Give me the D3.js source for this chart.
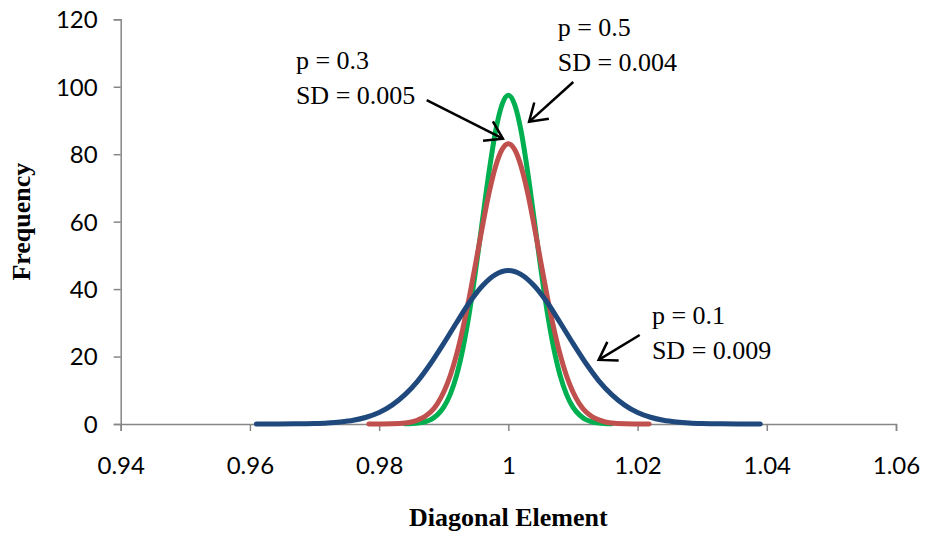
<!DOCTYPE html>
<html>
<head>
<meta charset="utf-8">
<script src="https://cdn.jsdelivr.net/npm/d3@7"></script>
<style>
  html, body { margin: 0; padding: 0; background: #ffffff; }
  svg { display: block; }
</style>
</head>
<body>
<svg id="chart" width="926" height="538"></svg>
<script>
// ---------- data ----------
const xTickValues = [0.94, 0.96, 0.98, 1.00, 1.02, 1.04, 1.06];
const xTickLabels = ["0.94", "0.96", "0.98", "1", "1.02", "1.04", "1.06"];
const yTickValues = [0, 20, 40, 60, 80, 100, 120];
const yTickLabels = ["0", "20", "40", "60", "80", "100", "120"];

// p = 0.5, SD = 0.004 (green)
const greenX = [0.984, 0.986, 0.987, 0.988, 0.989, 0.990, 0.991, 0.992, 0.993, 0.994, 0.995, 0.996, 0.997, 0.998, 0.999,
                1.000,
                1.001, 1.002, 1.003, 1.004, 1.005, 1.006, 1.007, 1.008, 1.009, 1.010, 1.011, 1.012, 1.013, 1.014, 1.016];
const greenY = [0.05, 0.3, 0.6, 1.3, 2.7, 5.0, 8.8, 14.5, 22.7, 33.4, 46.4, 60.6, 74.6, 86.6, 94.6,
                97.5,
                94.6, 86.6, 74.6, 60.6, 46.4, 33.4, 22.7, 14.5, 8.8, 5.0, 2.7, 1.3, 0.6, 0.3, 0.05];

// p = 0.3, SD = 0.005 (red)
const redX = [0.9784, 0.980, 0.982, 0.984, 0.985, 0.986, 0.987, 0.988, 0.989, 0.990, 0.991, 0.992, 0.993, 0.994, 0.995, 0.996, 0.997, 0.998, 0.999,
              1.000,
              1.001, 1.002, 1.003, 1.004, 1.005, 1.006, 1.007, 1.008, 1.009, 1.010, 1.011, 1.012, 1.013, 1.014, 1.015, 1.016, 1.018, 1.020, 1.0218];
const redY = [0.0, 0.02, 0.07, 0.3, 0.6, 1.2, 2.1, 3.6, 6.0, 9.5, 14.3, 20.7, 28.7, 38.0, 48.3, 58.7, 68.4, 76.2, 81.3,
              83.1,
              81.3, 76.2, 68.4, 58.7, 48.3, 38.0, 28.7, 20.7, 14.3, 9.5, 6.0, 3.6, 2.1, 1.2, 0.6, 0.3, 0.07, 0.02, 0.0];

// p = 0.1, SD = 0.009 (blue)
const blueX = [0.961, 0.964, 0.967, 0.970, 0.972, 0.974, 0.976, 0.978, 0.980, 0.982, 0.984, 0.986, 0.988, 0.990, 0.992, 0.994, 0.996, 0.998,
               1.000,
               1.002, 1.004, 1.006, 1.008, 1.010, 1.012, 1.014, 1.016, 1.018, 1.020, 1.022, 1.024, 1.026, 1.028, 1.030, 1.033, 1.036, 1.039];
const blueY = [0.0, 0.01, 0.04, 0.14, 0.3, 0.6, 1.1, 2.0, 3.4, 5.6, 8.7, 12.8, 18.0, 23.9, 30.1, 36.1, 41.0, 44.3,
               45.5,
               44.3, 41.0, 36.1, 30.1, 23.9, 18.0, 12.8, 8.7, 5.6, 3.4, 2.0, 1.1, 0.6, 0.3, 0.14, 0.04, 0.01, 0.0];

const seriesNames = ["p = 0.5", "p = 0.3", "p = 0.1"];
const seriesColors = ["#00B050", "#C0504D", "#1F497D"];

// annotations: text lines anchored in data units, arrows from/to in data units
const annoLine1 = ["p = 0.3", "p = 0.5", "p = 0.1"];
const annoLine2 = ["SD = 0.005", "SD = 0.004", "SD = 0.009"];
const annoTextX = [0.96712, 1.00764, 1.02222];
const annoTextY = [105.2, 114.9, 29.6];
const arrowFromX = [0.98736, 1.01005, 1.02033];
const arrowFromY = [96.0, 101.4, 26.4];
const arrowToX = [0.99916, 1.00321, 1.01398];
const arrowToY = [84.6, 89.6, 19.0];

// ---------- layout ----------
const svg = d3.select("#chart");
const x = d3.scaleLinear().domain([0.94, 1.06]).range([120.7, 896]);
const y = d3.scaleLinear().domain([0, 120]).range([424, 19.3]);
const axisColor = "#868686";
const tickFont = "Lato, 'Open Sans', sans-serif";
const serifFont = "'Liberation Serif', 'Times New Roman', serif";

svg.append("rect").attr("width", 926).attr("height", 538).attr("fill", "#fff");

// y axis
const yAxis = svg.append("g").attr("transform", `translate(${x.range()[0]},0)`)
  .call(d3.axisLeft(y).tickValues(yTickValues).tickSize(7).tickPadding(16)
        .tickFormat((d, i) => yTickLabels[i]));
// x axis
const xAxis = svg.append("g").attr("transform", `translate(0,${y(0)})`)
  .call(d3.axisBottom(x).tickValues(xTickValues).tickSize(7).tickPadding(26)
        .tickFormat((d, i) => xTickLabels[i]));

[yAxis, xAxis].forEach(g => {
  g.select(".domain").attr("stroke", axisColor).attr("stroke-width", 1.5);
  g.selectAll(".tick line").attr("stroke", axisColor).attr("stroke-width", 1.5);
  g.selectAll(".tick text").attr("fill", "#000").attr("font-family", tickFont).attr("font-size", 24);
});
yAxis.selectAll(".tick text").attr("dy", "0.35em");
xAxis.selectAll(".tick text").attr("dy", "0.71em");

// axis titles
svg.append("text")
  .attr("transform", `translate(30,${(y(0) + y(120)) / 2}) rotate(-90)`)
  .attr("text-anchor", "middle")
  .attr("font-family", serifFont).attr("font-weight", "bold").attr("font-size", 26)
  .text("Frequency");
svg.append("text")
  .attr("x", (x.range()[0] + x.range()[1]) / 2).attr("y", 526)
  .attr("text-anchor", "middle")
  .attr("font-family", serifFont).attr("font-weight", "bold").attr("font-size", 26)
  .text("Diagonal Element");

// curves
const seriesData = [
  greenX.map((v, i) => [v, greenY[i]]),
  redX.map((v, i) => [v, redY[i]]),
  blueX.map((v, i) => [v, blueY[i]])
];
const line = d3.line().x(d => x(d[0])).y(d => y(d[1])).curve(d3.curveMonotoneX);
svg.append("g").selectAll("path").data(seriesData).join("path")
  .attr("d", line)
  .attr("fill", "none")
  .attr("stroke", (d, i) => seriesColors[i])
  .attr("stroke-width", 5)
  .attr("stroke-linecap", "round")
  .attr("stroke-linejoin", "round");

// annotations
const ann = svg.append("g");
annoLine1.forEach((t, i) => {
  const tx = x(annoTextX[i]), ty = y(annoTextY[i]);
  ann.append("text").attr("x", tx).attr("y", ty)
    .attr("font-family", serifFont).attr("font-size", 26).text(t);
  ann.append("text").attr("x", tx).attr("y", ty + 35)
    .attr("font-family", serifFont).attr("font-size", 26).text(annoLine2[i]);

  const x1 = x(arrowFromX[i]), y1 = y(arrowFromY[i]);
  const x2 = x(arrowToX[i]), y2 = y(arrowToY[i]);
  const ang = Math.atan2(y1 - y2, x1 - x2);
  const L = 20, spread = 33 * Math.PI / 180;
  const a1 = [x2 + L * Math.cos(ang + spread), y2 + L * Math.sin(ang + spread)];
  const a2 = [x2 + L * Math.cos(ang - spread), y2 + L * Math.sin(ang - spread)];
  ann.append("line").attr("x1", x1).attr("y1", y1).attr("x2", x2).attr("y2", y2)
    .attr("stroke", "#000").attr("stroke-width", 2.5);
  ann.append("path")
    .attr("d", `M${a1[0]},${a1[1]}L${x2},${y2}L${a2[0]},${a2[1]}`)
    .attr("fill", "none").attr("stroke", "#000").attr("stroke-width", 2.5)
    .attr("stroke-linejoin", "miter");
});
</script>
</body>
</html>
